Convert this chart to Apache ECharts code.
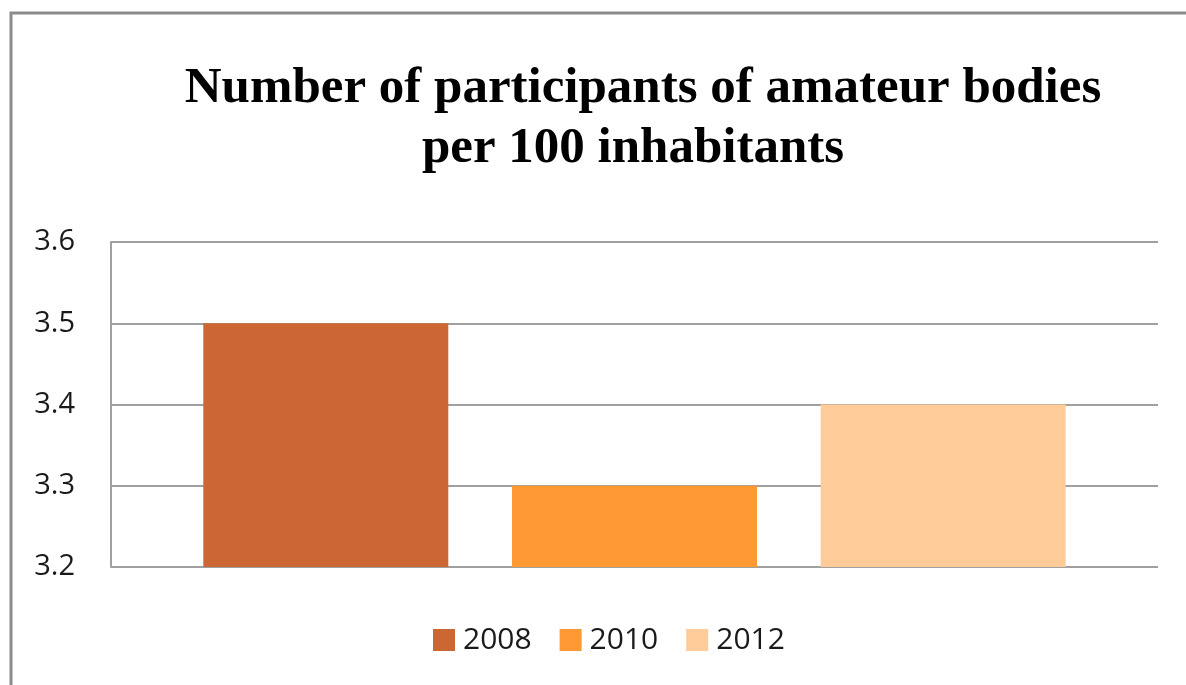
<!DOCTYPE html>
<html>
<head>
<meta charset="utf-8">
<script src="https://cdn.jsdelivr.net/npm/echarts@6/dist/echarts.min.js"></script>
<style>
  html, body { margin: 0; padding: 0; background: #fff; }
  #chart { width: 1186px; height: 685px; }
</style>
</head>
<body>
<div id="chart"></div>
<script>
// Participants of amateur bodies per 100 inhabitants, by year
const categories = [''];
const years = ['2008', '2010', '2012'];
const values2008 = [3.5];
const values2010 = [3.3];
const values2012 = [3.4];
const yearColors = ['#CC6633', '#FF9933', '#FFCC99'];
const yTicks = { min: 3.2, max: 3.6, interval: 0.1 };
const titleLines = ['Number of participants of amateur bodies', 'per 100 inhabitants'];

const seriesValues = [values2008, values2010, values2012];

// Bold serif heading, two centred lines
const titleFont = {
  fontFamily: '"Liberation Serif", "Times New Roman", serif',
  fontWeight: 'bold',
  fontSize: 51,
  fill: '#000',
  textAlign: 'center',
  textVerticalAlign: 'middle'
};

const chart = echarts.init(document.getElementById('chart'));
chart.setOption({
  animation: false,
  backgroundColor: '#fff',
  graphic: [
    {
      type: 'rect',
      shape: { x: 11, y: 13, width: 1200, height: 700 },
      style: { fill: 'none', stroke: '#8c8c8c', lineWidth: 3 },
      silent: true
    },
    {
      type: 'text',
      x: 643, y: 89,
      style: Object.assign({ text: titleLines[0] }, titleFont),
      silent: true
    },
    {
      type: 'text',
      x: 633, y: 149,
      style: Object.assign({ text: titleLines[1] }, titleFont),
      silent: true
    }
  ],
  legend: {
    data: years,
    bottom: 25,
    left: 428,
    itemWidth: 22,
    itemHeight: 22,
    itemGap: 28,
    icon: 'rect',
    textStyle: {
      fontFamily: '"Open Sans", "Noto Sans", sans-serif',
      fontSize: 30,
      color: '#1a1a1a',
      padding: [0, 0, 0, 3]
    }
  },
  grid: {
    left: 111,
    right: 28,
    top: 242,
    bottom: 118
  },
  xAxis: {
    type: 'category',
    data: categories,
    axisLine: { show: false },
    axisTick: { show: false },
    axisLabel: { show: false },
    splitLine: { show: false }
  },
  yAxis: {
    type: 'value',
    min: yTicks.min,
    max: yTicks.max,
    interval: yTicks.interval,
    axisLine: { show: true, lineStyle: { color: '#a0a0a0', width: 2 } },
    axisTick: { show: false },
    axisLabel: {
      margin: 36,
      fontFamily: '"Open Sans", "Noto Sans", sans-serif',
      fontSize: 29,
      color: '#1a1a1a',
      formatter: v => v.toFixed(1)
    },
    splitLine: { show: true, lineStyle: { color: '#a0a0a0', width: 2 } }
  },
  series: years.map((y, i) => ({
    name: y,
    type: 'bar',
    data: seriesValues[i],
    barWidth: 245,
    barGap: '26%',
    itemStyle: { color: yearColors[i] }
  }))
});
</script>
</body>
</html>
